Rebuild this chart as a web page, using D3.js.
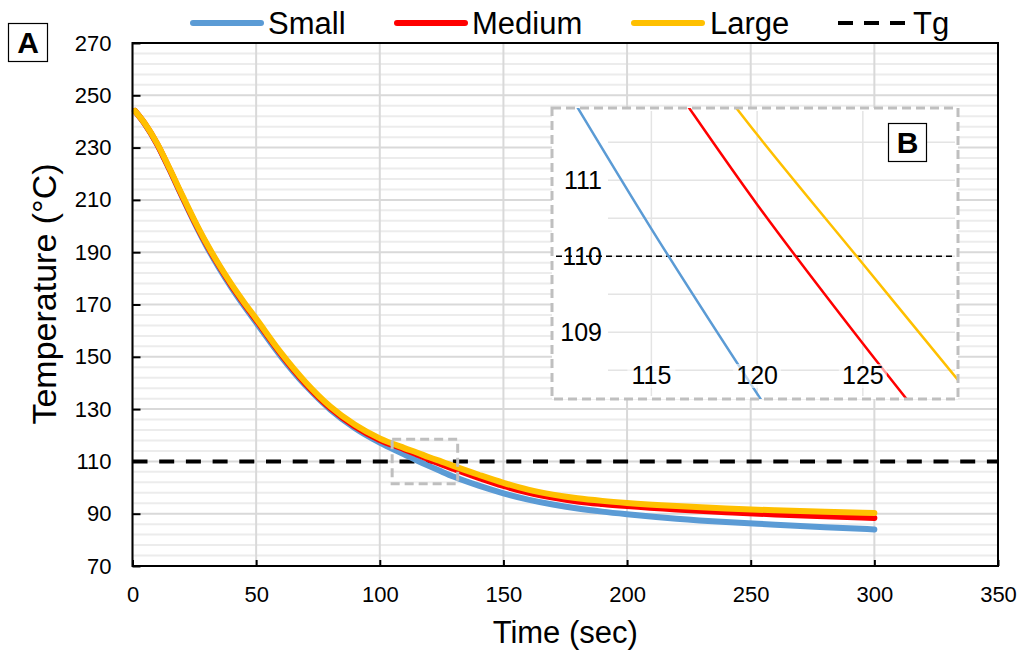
<!DOCTYPE html>
<html>
<head>
<meta charset="utf-8">
<script src="https://cdn.jsdelivr.net/npm/d3@7"></script>
<style>
  body { margin: 0; background: #fff; }
  svg { display: block; font-family: "Liberation Sans", Arial, sans-serif; }
</style>
</head>
<body>
<div id="chart"></div>
<script>
// --- data ---
const time   = [1, 5, 10, 15, 20, 25, 30, 35, 40, 45, 50, 60, 70, 80, 90, 100, 110, 115, 120, 125, 130, 140, 150, 160, 170, 180, 190, 200, 220, 240, 260, 280, 300];
const small  = [244, 239.0, 231.2, 221.5, 211.3, 201.4, 192.2, 184.0, 176.5, 169.6, 163.1, 150.2, 139.0, 129.8, 122.7, 117.2, 112.65, 110.36, 108.19, 106.1, 104.1, 100.7, 97.8, 95.4, 93.5, 92.0, 90.8, 89.8, 88.1, 86.8, 85.8, 84.8, 84.0];
const medium = [244, 239.1, 231.3, 221.7, 211.6, 201.9, 192.9, 184.8, 177.3, 170.5, 164.1, 151.1, 139.7, 130.4, 123.4, 118.2, 114.6, 112.66, 110.68, 108.85, 107.1, 103.7, 100.6, 98.1, 96.2, 94.7, 93.7, 92.9, 91.6, 90.6, 89.7, 89.0, 88.4];
const large  = [244, 239.2, 231.5, 222.0, 212.0, 202.3, 193.3, 185.2, 177.8, 171.0, 164.6, 151.6, 140.3, 131.0, 124.0, 118.8, 115.1, 113.4, 111.6, 109.9, 108.2, 104.9, 101.8, 99.2, 97.3, 95.9, 94.9, 94.1, 92.9, 92.0, 91.3, 90.7, 90.3];
const tg = 110;

const seriesNames  = ["Small", "Medium", "Large"];
const seriesColors = ["#5b9bd5", "#ff0000", "#ffc000"];
const seriesValues = [small, medium, large];

const xTickValues = [0, 50, 100, 150, 200, 250, 300, 350];
const yTickValues = [70, 90, 110, 130, 150, 170, 190, 210, 230, 250, 270];
const insetXTicks = [115, 120, 125];
const insetYTicks = [109, 110, 111];

// --- layout ---
const W = 1021, H = 654;
const plot = { left: 132.5, right: 998, top: 43, bottom: 566 };
const inset = { left: 552, right: 958, top: 108, bottom: 399 };

const svg = d3.select("#chart").append("svg").attr("width", W).attr("height", H);
svg.append("rect").attr("width", W).attr("height", H).attr("fill", "#fff");

const x = d3.scaleLinear().domain([0, 350]).range([plot.left, plot.right]);
const y = d3.scaleLinear().domain([70, 270]).range([plot.bottom, plot.top]);

const series = seriesNames.map((name, i) => ({
  name, color: seriesColors[i],
  values: time.map((t, j) => ({ t, v: seriesValues[i][j] }))
}));

// gridlines
const grid = svg.append("g");
grid.selectAll(".minor").data(d3.range(70, 271, 4).filter(v => (v - 70) % 20 !== 0))
  .join("line")
  .attr("x1", plot.left).attr("x2", plot.right)
  .attr("y1", d => y(d)).attr("y2", d => y(d))
  .attr("stroke", "#ececec").attr("stroke-width", 2);
grid.selectAll(".hmaj").data(yTickValues).join("line")
  .attr("x1", plot.left).attr("x2", plot.right)
  .attr("y1", d => y(d)).attr("y2", d => y(d))
  .attr("stroke", "#d9d9d9").attr("stroke-width", 2);
grid.selectAll(".vmaj").data(xTickValues).join("line")
  .attr("y1", plot.top).attr("y2", plot.bottom)
  .attr("x1", d => x(d)).attr("x2", d => x(d))
  .attr("stroke", "#d9d9d9").attr("stroke-width", 2);

// axes (ticks inside)
const yAxis = svg.append("g").attr("transform", `translate(${plot.left},0)`)
  .call(d3.axisLeft(y).tickValues(yTickValues).tickSize(-8).tickPadding(21));
const xAxis = svg.append("g").attr("transform", `translate(0,${plot.bottom})`)
  .call(d3.axisBottom(x).tickValues(xTickValues).tickSize(-6).tickPadding(20));
[xAxis, yAxis].forEach(a => {
  a.select(".domain").remove();
  a.selectAll(".tick line").attr("stroke", "#000").attr("stroke-width", 2);
  a.selectAll("text").attr("fill", "#000").style("font-size", "22px")
    .style("font-family", "'Liberation Sans', Arial, sans-serif");
});

// lines
const line = d3.line().x(d => x(d.t)).y(d => y(d.v)).curve(d3.curveMonotoneX);
svg.append("line")
  .attr("x1", x(0)).attr("x2", x(350)).attr("y1", y(tg)).attr("y2", y(tg))
  .attr("stroke", "#000").attr("stroke-width", 4).attr("stroke-dasharray", "15,11.7");
svg.append("g").selectAll("path").data(series).join("path")
  .attr("d", d => line(d.values))
  .attr("fill", "none").attr("stroke", d => d.color)
  .attr("stroke-width", 6).attr("stroke-linecap", "round").attr("stroke-linejoin", "round");

// plot border
svg.append("rect")
  .attr("x", plot.left).attr("y", plot.top)
  .attr("width", plot.right - plot.left).attr("height", plot.bottom - plot.top)
  .attr("fill", "none").attr("stroke", "#000").attr("stroke-width", 2);

// zoom window marker in the main plot
svg.append("rect")
  .attr("x", x(105)).attr("y", y(118.5))
  .attr("width", x(131.5) - x(105)).attr("height", y(101.5) - y(118.5))
  .attr("fill", "none").attr("stroke", "#bfbfbf").attr("stroke-width", 3)
  .attr("stroke-dasharray", "9,5");

// axis titles
svg.append("text").attr("x", (plot.left + plot.right) / 2).attr("y", 643)
  .attr("text-anchor", "middle").style("font-size", "31px").text("Time (sec)");
svg.append("text").attr("transform", "translate(56,294) rotate(-90)")
  .attr("text-anchor", "middle").style("font-size", "34px").text("Temperature (°C)");

// legend
const legendItems = [
  { name: "Small", color: seriesColors[0], dash: null, x0: 191, tx: 268 },
  { name: "Medium", color: seriesColors[1], dash: null, x0: 395, tx: 472 },
  { name: "Large", color: seriesColors[2], dash: null, x0: 632, tx: 710 },
  { name: "Tg", color: "#000", dash: "15,11", x0: 838, tx: 913 }
];
const lg = svg.append("g").selectAll("g").data(legendItems).join("g");
lg.append("line")
  .attr("x1", d => d.x0 + (d.dash ? 0 : 2)).attr("x2", d => d.x0 + 70)
  .attr("y1", 23).attr("y2", 23)
  .attr("stroke", d => d.color).attr("stroke-width", d => d.dash ? 4 : 6)
  .attr("stroke-linecap", d => d.dash ? "butt" : "round")
  .attr("stroke-dasharray", d => d.dash);
lg.append("text").attr("x", d => d.tx).attr("y", 34)
  .style("font-size", "31px").text(d => d.name);

// "A" label
svg.append("rect").attr("x", 8.5).attr("y", 23.5).attr("width", 39).attr("height", 38)
  .attr("fill", "#fff").attr("stroke", "#000").attr("stroke-width", 1.2);
svg.append("text").attr("x", 28).attr("y", 53).attr("text-anchor", "middle")
  .style("font-size", "30px").style("font-weight", "bold").text("A");

// --- inset B ---
const xi = d3.scaleLinear().domain([110.3, 129.5]).range([inset.left, inset.right]);
const yi = d3.scaleLinear().domain([108.12, 111.95]).range([inset.bottom, inset.top]);
const ig = svg.append("g");
ig.append("rect")
  .attr("x", inset.left).attr("y", inset.top)
  .attr("width", inset.right - inset.left).attr("height", inset.bottom - inset.top)
  .attr("fill", "#fff");
ig.append("clipPath").attr("id", "insetClip").append("rect")
  .attr("x", inset.left).attr("y", inset.top)
  .attr("width", inset.right - inset.left).attr("height", inset.bottom - inset.top);
ig.selectAll(".ih").data(d3.range(108.5, 111.6, 0.5)).join("line")
  .attr("x1", 608).attr("x2", inset.right - 3)
  .attr("y1", d => yi(d)).attr("y2", d => yi(d))
  .attr("stroke", "#e4e4e4").attr("stroke-width", 1.5);
ig.selectAll(".iv").data(insetXTicks).join("line")
  .attr("x1", d => xi(d)).attr("x2", d => xi(d))
  .attr("y1", inset.top + 3).attr("y2", inset.bottom - 3)
  .attr("stroke", "#e4e4e4").attr("stroke-width", 1.5);
ig.append("line")
  .attr("x1", inset.left + 4).attr("x2", inset.right - 4)
  .attr("y1", yi(tg)).attr("y2", yi(tg))
  .attr("stroke", "#000").attr("stroke-width", 1.5).attr("stroke-dasharray", "6,4");
const iline = d3.line().x(d => xi(d.t)).y(d => yi(d.v)).curve(d3.curveMonotoneX);
ig.append("g").attr("clip-path", "url(#insetClip)")
  .selectAll("path").data(series).join("path")
  .attr("d", d => iline(d.values.filter(p => p.t >= 100 && p.t <= 140)))
  .attr("fill", "none").attr("stroke", d => d.color).attr("stroke-width", 2.5);

// inset tick labels (semi-transparent backing like the original)
const ixl = ig.selectAll(".ixl").data(insetXTicks).join("g")
  .attr("transform", d => `translate(${xi(d)},384)`);
ixl.append("rect").attr("x", -24).attr("y", -20).attr("width", 48).attr("height", 24)
  .attr("fill", "#fff").attr("opacity", 0.6);
ixl.append("text").attr("text-anchor", "middle").style("font-size", "25px").text(d => d);
ig.selectAll(".iyl").data(insetYTicks).join("text")
  .attr("x", 602).attr("y", d => yi(d)).attr("dy", "0.35em")
  .attr("text-anchor", "end").style("font-size", "25px").text(d => d);

ig.append("rect")
  .attr("x", inset.left).attr("y", inset.top)
  .attr("width", inset.right - inset.left).attr("height", inset.bottom - inset.top)
  .attr("fill", "none").attr("stroke", "#bfbfbf").attr("stroke-width", 3)
  .attr("stroke-dasharray", "9,5");

ig.append("rect").attr("x", 888.5).attr("y", 123.5).attr("width", 38).attr("height", 38)
  .attr("fill", "#fff").attr("stroke", "#000").attr("stroke-width", 1.2);
ig.append("text").attr("x", 907.5).attr("y", 153).attr("text-anchor", "middle")
  .style("font-size", "30px").style("font-weight", "bold").text("B");
</script>
</body>
</html>
